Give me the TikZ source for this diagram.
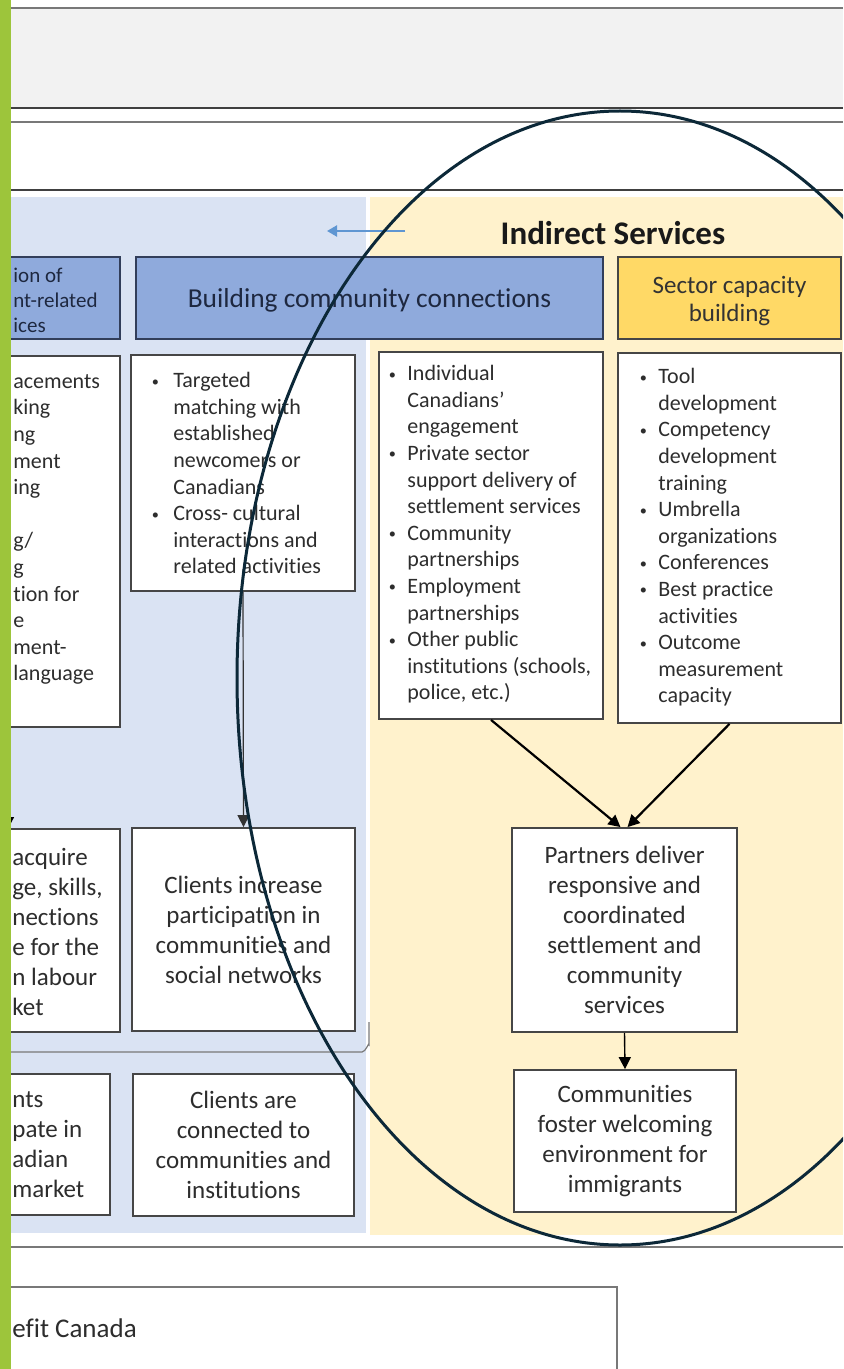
\documentclass[tikz,border=0pt]{standalone}
\usepackage{fontspec}
\setmainfont{Carlito}[Ligatures=NoCommon]
\usetikzlibrary{arrows.meta,fit}
\definecolor{greenbar}{RGB}{157,197,59}
\definecolor{panelblue}{RGB}{218,227,243}
\definecolor{panelyellow}{RGB}{255,242,204}
\definecolor{headblue}{RGB}{143,170,220}
\definecolor{headgold}{RGB}{255,217,102}
\definecolor{bandgray}{RGB}{242,242,242}
\definecolor{ringcol}{RGB}{12,40,56}
\definecolor{txtcol}{RGB}{45,45,45}
\definecolor{headtxt}{RGB}{30,40,64}
\definecolor{bordercol}{RGB}{70,70,70}
\definecolor{headborder}{RGB}{50,62,90}
\definecolor{arrowblue}{RGB}{95,150,210}
\definecolor{frameline}{RGB}{120,120,120}
\newcommand\bul[1]{\makebox[#1][l]{\hspace{1pt}\raisebox{0.15ex}{\scalebox{0.65}{•}}}}
\newcommand\indA{\hspace*{11.75pt}}
\newcommand\indB{\hspace*{10.25pt}}
\begin{document}
\begin{tikzpicture}[x=0.5pt,y=-0.5pt,
  whitebox/.style={draw=bordercol, fill=white, line width=0.9pt, inner sep=0pt},
  headbox/.style={draw=headborder, fill=headblue, line width=0.9pt, inner sep=0pt},
  goldbox/.style={draw=bordercol, fill=headgold, line width=0.9pt, inner sep=0pt},
  listtext/.style={anchor=north west, inner sep=0pt, align=left, text=txtcol, font=\fontsize{11}{13.3}\selectfont},
  fragtext/.style={anchor=west, inner sep=0pt, align=left, text=txtcol},
  outtext/.style={align=center, inner sep=0pt, text=txtcol, font=\fontsize{12.5}{15}\selectfont},
  arr/.style={-{Triangle[length=6pt,width=6pt]}, draw=black},
]
\useasboundingbox (0,0) rectangle (843,1369);
\clip (0,0) rectangle (843,1369);
\fill[white] (0,0) rectangle (843,1369);

% top bands
\fill[bandgray] (11,9) rectangle (843,108);
\draw[frameline, line width=1pt] (11,8.5) -- (843,8.5);
\draw[black!75, line width=1pt] (11,108) -- (843,108);
\draw[frameline, line width=1pt] (11,122.5) -- (843,122.5);
\draw[black!75, line width=1pt] (11,190.5) -- (843,190.5);

% panels
\fill[panelblue] (11,197) rectangle (366,1233);
\fill[panelyellow] (370,197) rectangle (843,1235);
\draw[frameline, line width=0.6pt] (11,1052) -- (362,1052) to[out=0,in=90] (369,1045) -- (369,1022);
\draw[frameline, line width=0.8pt] (11,1247) -- (843,1247);

% title and arrow
\node[inner sep=0pt, font=\fontsize{16.5}{19}\selectfont\bfseries, text=black!90] (title) at (613,233) {Indirect Services};
\coordinate (ba1) at (405,231);
\coordinate (ba2) at (327,231);
\draw[-{Triangle[length=5pt,width=5.5pt]}, arrowblue, line width=1.1pt] (ba1) -- (ba2);

% header row
\node[headbox, fit={(-10,257) (120,339)}] (hleft) {};
\node[fragtext, font=\fontsize{10.5}{12.5}\selectfont, text=headtxt] (hleftt) at (13,300) {ion of\\nt-related\\ices};
\node[headbox, fit={(136,257) (603,339)}] (hbuild) {};
\node[inner sep=0pt, font=\fontsize{13.7}{16}\selectfont, text=headtxt] (hbuildt) at ([yshift=-1pt]hbuild.center) {Building community connections};
\node[goldbox, fit={(618,257) (841,339)}] (hsector) {};
\node[inner sep=0pt, align=center, font=\fontsize{12.5}{14}\selectfont, text=black!80] (hsectort) at ([yshift=-1.5pt]hsector.center) {Sector capacity\\building};

% list boxes
\node[whitebox, fit={(-10,356) (120,727)}] (listL) {};
\node[listtext] (listLt) at (13,374) {acements\\king\\ng\\ment\\ing\\\mbox{}\\g/\\g\\tion for\\e\\ment-\\language};
\node[whitebox, fit={(131,355) (355,591)}] (listA) {};
\node[listtext] (listAt) at (149.5,372) {\bul{11.75pt}Targeted\\\indA matching with\\\indA established\\\indA newcomers or\\\indA Canadians\\\bul{11.75pt}Cross- cultural\\\indA interactions and\\\indA related activities};
\node[whitebox, fit={(379,352) (603,719)}] (listB) {};
\node[listtext] (listBt) at (386.5,365) {\bul{10.25pt}Individual\\\indB Canadians’\\\indB engagement\\\bul{10.25pt}Private sector\\\indB support delivery of\\\indB settlement services\\\bul{10.25pt}Community\\\indB partnerships\\\bul{10.25pt}Employment\\\indB partnerships\\\bul{10.25pt}Other public\\\indB institutions (schools,\\\indB police, etc.)};
\node[whitebox, fit={(618,353) (841,723)}] (listC) {};
\node[listtext] (listCt) at (637.5,368) {\bul{10.25pt}Tool\\\indB development\\\bul{10.25pt}Competency\\\indB development\\\indB training\\\bul{10.25pt}Umbrella\\\indB organizations\\\bul{10.25pt}Conferences\\\bul{10.25pt}Best practice\\\indB activities\\\bul{10.25pt}Outcome\\\indB measurement\\\indB capacity};

% outcome row 1
\node[whitebox, fit={(-10,829) (120,1032)}] (outL1) {};
\node[fragtext, font=\fontsize{12.5}{15}\selectfont] (outL1t) at (12,932) {acquire\\ge, skills,\\nections\\e for the\\n labour\\ket};
\node[whitebox, fit={(132,828) (355,1031)}] (clientsInc) {};
\node[outtext] (clientsInct) at (clientsInc.center) {Clients increase\\participation in\\communities and\\social networks};
\node[whitebox, fit={(512,828) (737,1032)}] (partners) {};
\node[outtext] (partnerst) at (partners.center) {Partners deliver\\responsive and\\coordinated\\settlement and\\community\\services};

% outcome row 2
\node[whitebox, fit={(-10,1074) (110,1215)}] (outL2) {};
\node[fragtext, font=\fontsize{12.5}{15}\selectfont] (outL2t) at (12,1145) {nts\\pate in\\adian\\market};
\node[whitebox, fit={(133,1074) (354,1216)}] (clientsCon) {};
\node[outtext] (clientsCont) at (clientsCon.center) {Clients are\\connected to\\communities and\\institutions};
\node[whitebox, fit={(514,1070) (736,1212)}] (communities) {};
\node[outtext] (communitiest) at (communities.center) {Communities\\foster welcoming\\environment for\\immigrants};

% bottom box
\node[draw=frameline, line width=0.8pt, inner sep=0pt, fit={(-10,1287) (617,1400)}] (benefit) {};
\node[fragtext, font=\fontsize{13.5}{16}\selectfont] (benefitt) at (12,1328) {efit Canada};

% connectors
\coordinate (la1) at (8,727);
\coordinate (la2) at (8,829);
\draw[arr, line width=0.6pt] (la1) -- (la2);
\draw[arr, line width=0.6pt, draw=black!80] (listA.south) -- (clientsInc.north);
\draw[arr, line width=1.1pt] (listB.south) -- ([xshift=-2pt]partners.north);
\draw[arr, line width=1.1pt] (listC.south) -- ([xshift=1.5pt]partners.north);
\draw[arr, line width=0.7pt] (partners.south) -- (communities.north);

% green bar
\fill[greenbar] (0,0) rectangle (11,1369);

% ellipse
\draw[ringcol, line width=1.5pt] (620,678) ellipse [x radius=191.5pt, y radius=283.5pt];
\end{tikzpicture}
\end{document}
